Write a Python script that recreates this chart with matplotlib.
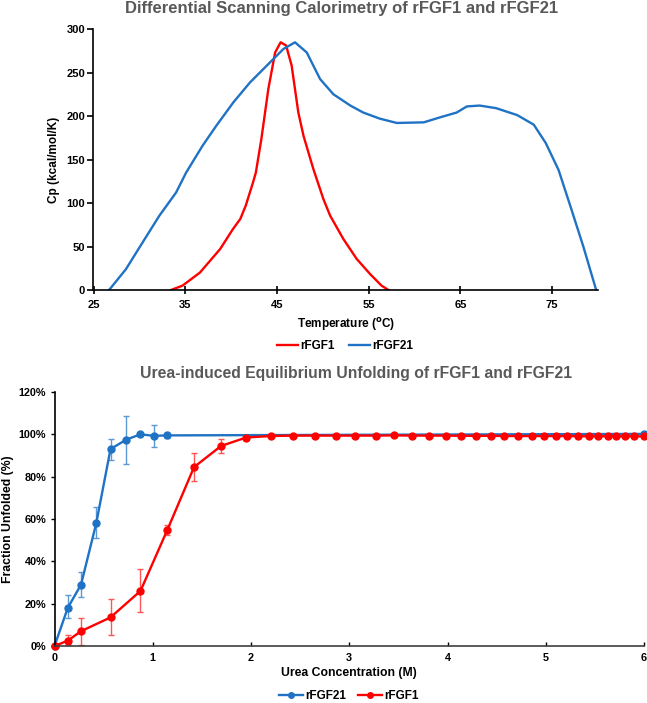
import matplotlib
matplotlib.use("Agg")
import matplotlib.pyplot as plt
from matplotlib.ticker import FuncFormatter
import numpy as np

plt.rcParams['font.family'] = ['Liberation Sans', 'DejaVu Sans']
plt.rcParams['font.weight'] = 'bold'
plt.rcParams['mathtext.default'] = 'bf'

RED = '#ff0000'
BLUE = '#1f72c4'

# ---- DSC data ----
dsc_fgf21_t = [26.7, 28.54, 30.36, 32.18, 34.0, 35.1, 36.9, 38.4, 40.25, 42.07, 43.9, 45.7,
               46.97, 48.25, 49.7, 51.15, 53.0, 54.4, 56.2, 58.06, 61.0, 62.8, 64.6, 65.7,
               67.1, 68.9, 71.2, 73.0, 74.3, 75.7, 77.0, 78.4, 79.8]
dsc_fgf21_cp = [0, 24, 54.8, 85.4, 112, 135, 166, 189, 215.7, 238.7, 258, 277,
                284.7, 273, 242.5, 225, 212, 204, 197, 192, 192.7, 198.5, 204, 211,
                212, 209, 201, 190, 169, 138, 96, 50, 0]
dsc_fgf1_t = [33.45, 34.7, 36.6, 38.8, 40.2, 41.0, 41.6, 42.4, 42.7, 43.3, 44.06, 44.8,
              45.4, 46.0, 46.6, 47.33, 47.9, 48.97, 50.06, 50.8, 52.24, 53.7, 55.15,
              56.4, 57.15]
dsc_fgf1_cp = [0, 5, 20, 47, 70, 81.6, 97, 124, 135, 173.6, 231, 273,
               284.7, 281, 258, 204, 177, 139, 104.6, 85.4, 58.6, 35.6, 18.4,
               5, 0]

# ---- Urea unfolding data ----
urea_fgf21_x = [0, 0.135, 0.27, 0.425, 0.57, 0.73, 0.875, 1.01, 1.15, 6.0]
urea_fgf21_y = [0, 18, 29, 58, 93, 97.5, 100, 99.3, 99.5, 100.2]
urea_fgf21_lo = [0, 13, 23, 51, 88, 86, 100, 94, 98.5, 100.2]
urea_fgf21_hi = [0, 24, 35, 65.5, 98, 108.5, 100, 104.5, 100.5, 100.2]

urea_fgf1_x = [0, 0.135, 0.27, 0.57, 0.875, 1.15, 1.42, 1.695, 1.95, 2.2, 2.43, 2.65, 2.87,
               3.06, 3.27, 3.46, 3.64, 3.81, 3.98, 4.14, 4.29, 4.44, 4.58, 4.72, 4.86, 4.98,
               5.1, 5.22, 5.33, 5.44, 5.53, 5.63, 5.72, 5.81, 5.9, 6.0]
urea_fgf1_y = [0, 2.5, 7, 13.5, 26, 55, 84.5, 94.5, 98.5, 99.2, 99.4, 99.4, 99.4,
               99.4, 99.4, 99.5, 99.4, 99.4, 99.4, 99.3, 99.3, 99.3, 99.2, 99.2, 99.2, 99.2,
               99.2, 99.2, 99.1, 99.1, 99.1, 99.1, 99.1, 99.1, 99.1, 99.0]
urea_fgf1_lo = [0, 0.5, 0.5, 5, 16, 52.5, 78, 91] + urea_fgf1_y[8:]
urea_fgf1_hi = [0, 5, 13, 22, 36.5, 57, 91, 98] + urea_fgf1_y[8:]

W, H = 647, 703
fig = plt.figure(figsize=(W / 100, H / 100), dpi=100)

def rect(l, t, r, b):
    return [l / W, 1 - b / H, (r - l) / W, (b - t) / H]

def fx(px):
    return px / W

def fy(py):
    return 1 - py / H

TITLE_C = '#595959'

# ---- Top chart ----
ax1 = fig.add_axes(rect(93.5, 29, 598, 290))
ax1.plot(dsc_fgf1_t, dsc_fgf1_cp, color=RED, lw=1.7, label='rFGF1')
ax1.plot(dsc_fgf21_t, dsc_fgf21_cp, color=BLUE, lw=1.7, label='rFGF21')
ax1.set_xlim(25, 80)
ax1.set_ylim(0, 300)
ax1.set_xticks([25, 35, 45, 55, 65, 75])
ax1.set_yticks([0, 50, 100, 150, 200, 250, 300])
for s in ['top', 'right']:
    ax1.spines[s].set_visible(False)
for s in ['left', 'bottom']:
    ax1.spines[s].set_linewidth(1.2)
ax1.tick_params(labelsize=8, length=4, width=1.2, pad=2)
ax1.tick_params(axis='x', direction='inout', length=6, pad=4)
ax1.set_xlabel('Temperature ($^{o}$C)', fontsize=8.5, fontweight='bold')
ax1.xaxis.set_label_coords(0.5, (290 - 316) / 261, transform=ax1.transAxes)
ax1.set_ylabel('Cp (kcal/mol/K)', fontsize=8.5, fontweight='bold')
ax1.yaxis.set_label_coords((60 - 93.5) / 504.5, 0.5)
fig.text(fx(342), fy(9), 'Differential Scanning Calorimetry of rFGF1 and rFGF21',
         fontsize=12, fontweight='bold', color=TITLE_C, ha='center', va='center')
fig.legend(handles=ax1.get_lines(), loc='center', bbox_to_anchor=(fx(345), fy(346)),
           ncol=2, frameon=False, fontsize=8.5, handlelength=1.8, handletextpad=0.2,
           columnspacing=1.2)

# ---- Bottom chart ----
ax2 = fig.add_axes(rect(54.5, 392, 644, 646))
bx = np.array(urea_fgf21_x); by = np.array(urea_fgf21_y)
ax2.errorbar(bx, by, yerr=[by - np.array(urea_fgf21_lo), np.array(urea_fgf21_hi) - by],
             color=BLUE, ecolor='#5b98d6', elinewidth=1.0, capsize=2, capthick=1.0,
             lw=1.7, marker='o', ms=5, label='rFGF21', clip_on=False)
rx = np.array(urea_fgf1_x); ry = np.array(urea_fgf1_y)
ax2.errorbar(rx, ry, yerr=[ry - np.array(urea_fgf1_lo), np.array(urea_fgf1_hi) - ry],
             color=RED, ecolor='#ff5555', elinewidth=1.0, capsize=2, capthick=1.0,
             lw=1.7, marker='o', ms=5, label='rFGF1', clip_on=False)
ax2.set_xlim(0, 6)
ax2.set_ylim(0, 120)
ax2.set_xticks([0, 1, 2, 3, 4, 5, 6])
ax2.set_yticks([0, 20, 40, 60, 80, 100, 120])
ax2.yaxis.set_major_formatter(FuncFormatter(lambda v, p: f'{int(v)}%'))
for s in ['top', 'right']:
    ax2.spines[s].set_visible(False)
for s in ['left', 'bottom']:
    ax2.spines[s].set_linewidth(1.2)
ax2.spines['bottom'].set_color('#404040')
ax2.tick_params(labelsize=7.8, length=3, width=1.0, pad=3)
ax2.tick_params(axis='x', direction='in', pad=5)
ax2.set_xlabel('Urea Concentration (M)', fontsize=8.8, fontweight='bold')
ax2.xaxis.set_label_coords(0.5, (646 - 667) / 254, transform=ax2.transAxes)
ax2.set_ylabel('Fraction Unfolded (%)', fontsize=8.8, fontweight='bold')
ax2.yaxis.set_label_coords((14 - 54.5) / 589.5, 0.5)
fig.text(fx(356), fy(373), 'Urea-induced Equilibrium Unfolding of rFGF1 and rFGF21',
         fontsize=11.3, fontweight='bold', color=TITLE_C, ha='center', va='center')
leg_h = [plt.Line2D([], [], color=BLUE, lw=1.7, marker='o', ms=4),
         plt.Line2D([], [], color=RED, lw=1.7, marker='o', ms=4)]
fig.legend(handles=leg_h, labels=['rFGF21', 'rFGF1'], loc='center',
           bbox_to_anchor=(fx(349), fy(696)), ncol=2, frameon=False, fontsize=8.5,
           handlelength=2.0, handletextpad=0.2, columnspacing=1.0)

fig.savefig('out.png', dpi=100)
